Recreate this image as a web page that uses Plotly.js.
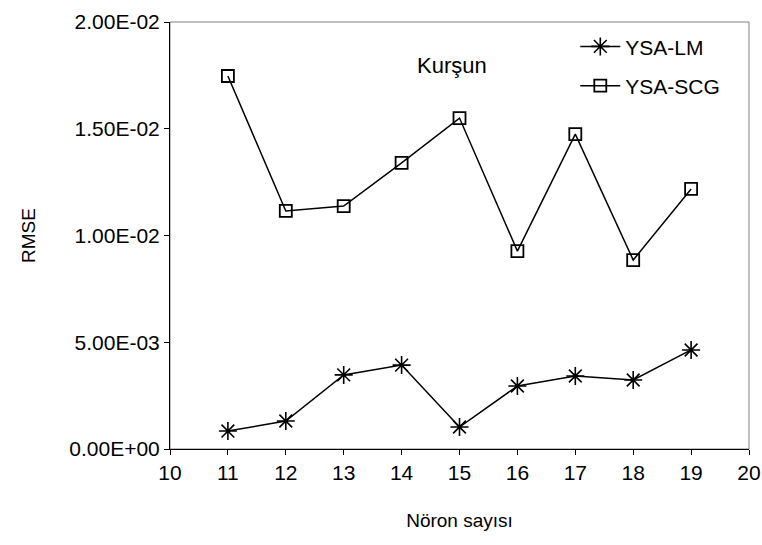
<!DOCTYPE html>
<html>
<head>
<meta charset="utf-8">
<script src="https://cdn.plot.ly/plotly-3.0.1.min.js"></script>
<style>html,body{margin:0;padding:0;background:#fff}</style>
</head>
<body>
<div id="chart" style="width:762px;height:545px"></div>
<script>
const neurons = [11, 12, 13, 14, 15, 16, 17, 18, 19];
const ysaLM  = [0.00084, 0.00131, 0.00347, 0.00393, 0.00103, 0.00295, 0.00342, 0.00323, 0.00464];
const ysaSCG = [0.01747, 0.01115, 0.01138, 0.01340, 0.01550, 0.00927, 0.01475, 0.00885, 0.01218];
const yTickVals = [0, 0.005, 0.01, 0.015, 0.02];
const yTickText = ["0.00E+00", "5.00E-03", "1.00E-02", "1.50E-02", "2.00E-02"];
const xTickVals = [10, 11, 12, 13, 14, 15, 16, 17, 18, 19, 20];

const FAM = "Liberation Sans, Arial, sans-serif";

const traces = [
  {x: neurons, y: ysaLM, name: "YSA-LM", legendgroup: "lm", type: "scatter", mode: "lines+markers",
   line: {color: "#000", width: 1.5},
   marker: {symbol: "asterisk-open", size: 15, color: "#000", line: {color: "#000", width: 1.6}}},
  {x: neurons, y: ysaSCG, name: "YSA-SCG", legendgroup: "scg", type: "scatter", mode: "lines+markers",
   line: {color: "#000", width: 1.5},
   marker: {symbol: "square-open", size: 12, color: "#000", line: {color: "#000", width: 1.8}}}
];

const layout = {
  width: 762, height: 545,
  margin: {l: 170, r: 13, t: 22, b: 96},
  paper_bgcolor: "#fff", plot_bgcolor: "#fff",
  font: {family: FAM, size: 21, color: "#000"},
  showlegend: true,
  legend: {x: 0.70, y: 0.99, xanchor: "left", yanchor: "top", bgcolor: "rgba(0,0,0,0)",
           font: {family: FAM, size: 21, color: "#000"}, tracegroupgap: 9, itemwidth: 40},
  xaxis: {range: [10, 20], tickvals: xTickVals, ticks: "outside", ticklen: 5, tickcolor: "#000",
          showline: true, linecolor: "#000", linewidth: 1, showgrid: false, zeroline: false,
          ticklabeloverflow: "allow",
          tickfont: {family: FAM, size: 21, color: "#000"},
          title: {text: "Nöron sayısı", font: {family: FAM, size: 19, color: "#000"}, standoff: 30}},
  yaxis: {range: [0, 0.02], tickvals: yTickVals, ticktext: yTickText, ticks: "outside", ticklen: 5,
          tickcolor: "#000", showline: true, linecolor: "#000", linewidth: 1, showgrid: false,
          zeroline: false, tickfont: {family: FAM, size: 21, color: "#000"},
          title: {text: "RMSE", font: {family: FAM, size: 19, color: "#000"}, standoff: 28}},
  shapes: [{type: "rect", xref: "paper", yref: "paper", x0: 0, x1: 1, y0: 0, y1: 1,
            line: {color: "#808080", width: 1}, layer: "below"}],
  annotations: [{text: "Kurşun", xref: "paper", yref: "paper", x: 0.487, y: 0.932,
                 showarrow: false, font: {family: FAM, size: 22, color: "#000"}}]
};

Plotly.newPlot("chart", traces, layout, {displayModeBar: false, staticPlot: true});
</script>
</body>
</html>
